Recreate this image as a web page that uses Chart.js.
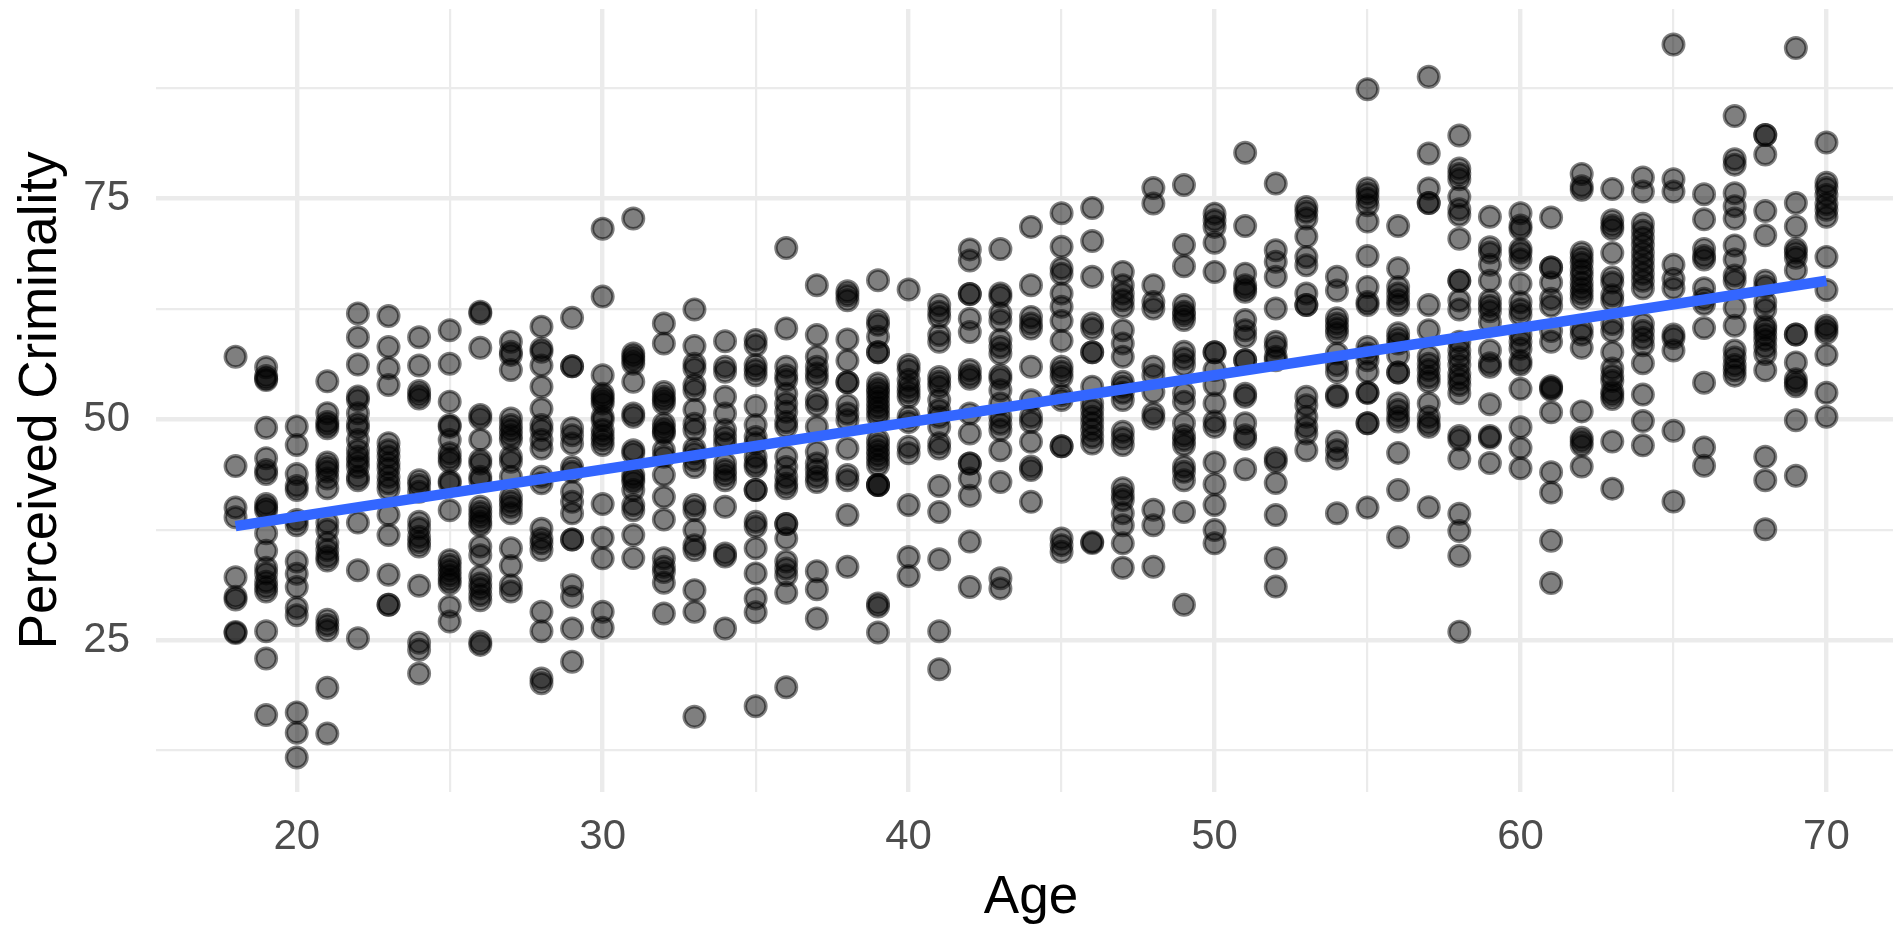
<!DOCTYPE html>
<html>
<head>
<meta charset="utf-8">
<title>Perceived Criminality by Age</title>
<script src="https://cdn.jsdelivr.net/npm/chart.js@4/dist/chart.umd.js"></script>
<style>
html,body{margin:0;padding:0;background:#fff;overflow:hidden;width:1893px;height:925px}
#wrap{width:1893px;height:925px;overflow:hidden;position:relative}
canvas{display:block;position:absolute;left:0;top:0}
</style>
</head>
<body>
<div id="wrap"><canvas id="c" width="1920" height="925" style="width:1920px;height:925px"></canvas></div>
<script>
const xTitle = "Age";
const yTitle = "Perceived Criminality";
const xMajorTicks = [20,30,40,50,60,70];
const xMinorTicks = [25,35,45,55,65];
const yMajorTicks = [25,50,75];
const yMinorTicks = [12.5,37.5,62.5,87.5];
const fitAges = [18,70];
const fitValues = [37.9,65.7];

const age18=[57.1,44.7,40.0,38.9,32.1,29.9,29.6,25.9,25.8];
const age19=[55.9,54.9,54.6,54.45,49.05,45.6,44.25,43.8,40.4,40.0,39.7,37.1,35.1,33.2,32.55,31.6,31.0,30.5,26.0,22.9,16.5];
const age20=[49.2,47.1,43.8,42.45,42.0,38.6,38.0,33.9,32.5,31.0,28.65,27.8,16.8,14.5,11.7];
const age21=[54.3,50.7,49.7,49.35,49.0,45.1,44.6,44.1,43.3,42.2,38.3,37.45,36,35.2,34.45,34.0,27.3,26.7,26.1,19.6,14.4];
const age22=[62.0,59.3,56.2,52.6,52.2,50.7,49.5,49.0,47.65,46.5,45.75,45.2,44.6,43.5,43.1,38.3,32.9,25.2];
const age23=[61.7,58.2,55.8,53.9,47.3,46.5,45.8,45,44.4,43.5,42.75,42.1,39.2,36.9,32.4,29.0,29.0];
const age24=[59.3,56.1,53.2,52.75,52.35,43.1,42.55,41.8,38.4,37.65,36.7,36.1,35.6,31.15,24.7,23.9,21.2];
const age25=[60.1,56.3,52,49.35,49.15,47.65,46.15,45.6,45.2,43,42.75,39.7,34.05,33.5,32.9,32.35,31.8,31.4,28.8,27.1];
const age26=[62.2,62,58.1,50.5,50.1,47.7,45.4,45,43.5,43.1,40.1,39.5,39,38.4,38,35.6,34.6,32.2,31.4,30.85,30.1,29.5,24.8,24.45];
const age27=[58.8,57.65,57.3,55.6,50.1,49.35,48.8,48.2,47.65,45.75,45.2,43.5,41.2,40.65,40.1,39.35,35.4,33.4,31.2,30.5];
const age28=[60.5,58,57.65,56.1,53.7,51.2,49.35,48.8,47.65,46.7,43.5,42.75,37.6,36.5,35.95,35.2,28.2,26,20.65,20.1];
const age29=[61.5,56,56,49,48.2,47.25,44.6,44.05,41.8,40.65,39.35,36.4,36.4,31.2,29.9,26.3,22.55];
const age30=[71.6,63.9,55,52.9,52.55,52.2,51.8,50.3,49.9,48.8,48.2,47.65,47.1,40.4,36.6,34.25,28.2,26.4];
const age31=[72.75,57.45,57.1,56.7,56.3,54.25,50.65,50.3,46.5,46.15,43.7,43.3,42.9,42,40.3,39.7,36.9,34.3];
const age32=[60.85,58.6,53.1,52.55,52.2,51.8,49.5,49,48.6,48.4,46.5,45.75,43.7,41.2,38.65,34.25,33.3,32.7,31.5,28];
const age33=[62.45,58.3,56.3,55.75,53.9,53.3,51.1,49.5,48.8,46.7,46.15,45.4,44.6,40.3,39.7,37.45,35.75,35.2,30.65,28.2,16.3];
const age34=[58.85,55.95,55.4,52.55,50.65,48.8,48,47.3,45,44.25,43.7,43.1,40.1,34.8,34.45,26.3];
const age35=[59,58.4,56.15,55.6,55,51.5,49.35,48,47.3,45.75,45,44.6,42,42,38.4,37.85,35.4,32.55,29.7,28.15,17.5];
const age36=[69.4,60.3,55.95,55,54.45,52.9,51.8,50.85,49.7,49.15,45.75,44.6,43.5,42.7,42.2,38.15,38.15,36.5,33.9,33.1,32.35,30.35,19.65];
const age37=[65.2,59.55,57.1,55.95,55.2,54.6,52.2,51.6,49.15,46.3,45,44.25,43.5,42.9,32.8,30.75,27.45];
const age38=[64.5,64.05,63.5,59.05,56.65,54.2,54.2,51.6,50.65,49.9,46.7,43.7,43.1,39.15,33.3];
const age39=[65.75,61.2,60.7,59.35,57.6,57.6,54.05,53.5,53.1,52.55,52,51.4,50.85,50.3,47.65,47.1,46.5,45.95,45.4,44.8,42.55,42.55,42.55,29.15,28.8,25.85];
const age40=[64.7,56.15,55.6,54.45,53.7,53.1,52.55,50.3,49.7,46.9,46.15,40.3,34.4,32.25];
const age41=[62.95,62.2,61.6,59.55,58.8,54.8,54.25,53.7,52.2,51.05,50.3,49.15,47.3,46.7,42.45,39.5,34.15,26,21.7];
const age42=[69.25,68,64.2,64.2,61.4,59.9,55.6,55,54.6,50.65,48.4,45,45,43.3,41.35,36.15,31];
const age43=[69.3,64.25,63.9,62,61.2,59,58.2,57.45,55,54.6,53.3,51.8,50.3,49.5,48.8,46.5,42.9,32,30.85];
const age44=[71.8,65.2,61.6,60.85,60.3,55.95,52.15,50.3,49.7,47.45,44.65,44.25,40.65];
const age45=[73.35,69.55,67.1,66.5,64.25,62.75,61.15,58.9,55.95,55.4,54.8,52.75,52.2,46.95,46.95,36.5,35.75,35];
const age46=[73.95,70.2,66.15,60.85,60.3,57.6,57.6,53.7,51.8,51.05,50.3,49.55,48.8,48,47.25,36.1,36];
const age47=[66.7,65.2,64.25,63.5,62.75,60.1,58.6,57.1,54.25,53.7,53,52.2,48.6,47.85,47.1,42.2,41.45,40.85,39.35,38,35.95,33.2];
const age48=[76.2,74.45,65.2,63.3,62.55,55.95,55,53.1,50.65,50.1,39.75,38,33.3];
const age49=[76.55,69.75,67.35,62.95,62.2,61.8,61.25,57.65,56.9,56.15,52.95,52,49.55,48.2,47.65,47.1,44.65,44.05,43.1,39.5,29];
const age50=[73.3,72.55,71.8,70,66.7,57.6,57.6,55.6,53.9,51.8,49.75,49.15,45.1,42.65,40.3,37.45,35.95];
const age51=[80.2,71.9,66.5,65.2,64.8,64.45,61.25,60.1,59.35,56.7,56.7,52.9,52.55,49.55,48.2,47.8,44.35];
const age52=[76.7,69.15,67.85,66.15,62.55,58.8,58.2,57.1,56.7,45.6,45.2,42.8,39.15,34.25,31.05];
const age53=[74.05,73.5,72.75,70.7,68.4,67.45,64.25,62.95,62.95,52.55,51.6,50.3,49.15,48.4,46.5];
const age54=[66.15,64.6,61.45,60.85,60.3,59.75,57.45,56.15,55.4,52.75,52.55,47.45,46.5,45.55,39.35];
const age55=[87.4,76.15,75.6,75,74.25,72.4,68.5,65,63.3,62.95,58.2,57.45,56.7,55.4,53,53,49.55,49.55,40];
const age56=[71.9,67.1,65,64.25,63.5,62.95,59.75,59.15,58.6,57.25,55.3,55.3,51.8,51.05,50.3,49.75,46.2,42,36.65];
const age57=[88.8,80.1,76.15,74.5,74.5,62.95,60.1,57.1,56.3,55.6,54.8,54.25,51.8,50.3,49.55,49.15,40.05];
const age58=[82.15,78.4,77.8,77.2,75.2,73.8,73.15,70.45,65.7,65.7,63.45,62.45,58.8,57.8,57,56.15,55.15,54.55,53.9,52.95,48.1,47.7,45.55,39.3,37.35,34.55,25.95];
const age59=[72.95,69.5,68.9,67.5,65.7,63.45,62.85,62.25,61,57.8,56.35,55.95,51.7,48.1,47.9,45.05];
const age60=[73.35,71.95,71.55,69.3,68.9,68.1,65.35,63.25,62.45,61.85,59.6,58.8,58,56.6,56.2,53.45,49.1,46.75,44.45];
const age61=[72.85,67.2,67.2,65.5,63.65,62.85,60,58.8,53.75,53.55,53.35,50.8,44,41.7,36.25,31.45];
const age62=[77.8,76.4,76,68.9,68.3,67.7,66.9,66.3,65.5,64.85,64.25,63.65,60.2,59.6,58.1,50.9,47.9,47.5,47.05,44.65];
const age63=[76.1,72.55,71.95,71.55,68.85,66.1,65.5,64.05,63.45,60.8,60,57.6,55.75,54.95,54.35,53.15,52.75,52.3,47.5,42.15];
const age64=[77.4,75.8,72.15,71.35,70.55,69.75,68.9,68.1,67.3,66.5,65.7,64.85,60.8,60,59.2,58.4,56.35,52.8,49.8,47.05];
const age65=[92.45,77.2,75.8,67.5,65.9,64.85,59.6,59.2,57.8,48.7,40.7];
const age66=[75.5,72.65,69.3,68.5,68.1,64.85,63.65,63.05,60.35,54.15,46.8,44.75];
const age67=[84.35,79.45,78.85,75.6,74.15,72.75,69.7,68.1,66.3,65.7,62.65,60.6,57.8,57,56.15,55.55,54.95];
const age68=[82.2,82.2,80,73.6,70.85,65.7,65.05,63.25,62.45,60.6,60.2,59.6,59,58.2,57.4,55.55,45.75,43.1,37.55];
const age69=[92.05,74.5,71.85,69.3,68.9,68.3,66.9,59.6,59.6,56.45,54.55,54.15,53.75,49.9,43.6];
const age70=[81.35,76.8,76.2,75.4,74.4,73.75,72.95,68.4,64.65,60.6,60.2,59.8,57.3,53,50.3];

const ages=[18,19,20,21,22,23,24,25,26,27,28,29,30,31,32,33,34,35,36,37,38,39,40,41,42,43,44,45,46,47,48,49,50,51,52,53,54,55,56,57,58,59,60,61,62,63,64,65,66,67,68,69,70];
const columns=[age18,age19,age20,age21,age22,age23,age24,age25,age26,age27,age28,age29,age30,age31,age32,age33,age34,age35,age36,age37,age38,age39,age40,age41,age42,age43,age44,age45,age46,age47,age48,age49,age50,age51,age52,age53,age54,age55,age56,age57,age58,age59,age60,age61,age62,age63,age64,age65,age66,age67,age68,age69,age70];

const points=[];
ages.forEach((a,i)=>columns[i].forEach(v=>points.push({x:a,y:v})));
const fitLine=fitAges.map((a,i)=>({x:a,y:fitValues[i]}));

const FONT='"Liberation Sans", Arial, Helvetica, sans-serif';
const GRID='#ebebeb';
function noScalePadding(s){s.paddingTop=0;s.paddingBottom=0;s.paddingLeft=0;s.paddingRight=0;}

new Chart(document.getElementById('c'),{
  type:'scatter',
  data:{datasets:[
    {label:'fit',data:fitLine,showLine:true,order:0,borderColor:'#3366FF',backgroundColor:'#3366FF',borderWidth:10.5,borderCapStyle:'butt',pointRadius:0,pointHoverRadius:0,tension:0,clip:false},
    {label:'observations',data:points,order:1,showLine:false,pointRadius:10.3,pointHoverRadius:10.3,borderWidth:3.4,pointBorderWidth:3.4,pointBackgroundColor:'rgba(0,0,0,0.5)',pointBorderColor:'rgba(0,0,0,0.5)',clip:false}
  ]},
  options:{
    responsive:false,animation:false,devicePixelRatio:1,
    layout:{autoPadding:false,padding:{top:9,right:14,left:0,bottom:0}},
    plugins:{legend:{display:false},tooltip:{enabled:false}},
    events:[],
    scales:{
      x:{type:'linear',min:15.4,max:72.6,
        afterBuildTicks(s){s.ticks=[...xMajorTicks,...xMinorTicks].sort((a,b)=>a-b).map(v=>({value:v}));},
        afterFit(s){s.height=133.3;noScalePadding(s);},
        border:{display:false},
        grid:{color:GRID,drawTicks:false,lineWidth:c=>xMajorTicks.includes(c.tick.value)?4.4:2.2},
        ticks:{padding:21,maxRotation:0,autoSkip:false,color:'#4D4D4D',font:{family:FONT,size:42},
          callback:v=>xMajorTicks.includes(v)?String(v):''},
        title:{display:true,text:xTitle,color:'#000',font:{family:FONT,size:53},padding:{top:0,bottom:-5}}
      },
      y:{type:'linear',min:7.82,max:96.48,
        afterBuildTicks(s){s.ticks=[...yMajorTicks,...yMinorTicks].sort((a,b)=>a-b).map(v=>({value:v}));},
        afterFit(s){s.width=156;noScalePadding(s);},
        border:{display:false},
        grid:{color:GRID,drawTicks:false,lineWidth:c=>yMajorTicks.includes(c.tick.value)?4.4:2.2},
        ticks:{padding:26,autoSkip:false,color:'#4D4D4D',font:{family:FONT,size:42},
          callback:v=>yMajorTicks.includes(v)?String(v):''},
        title:{display:true,text:yTitle,color:'#000',font:{family:FONT,size:53},padding:{top:10,bottom:0}}
      }
    }
  }
});
</script>
</body>
</html>
